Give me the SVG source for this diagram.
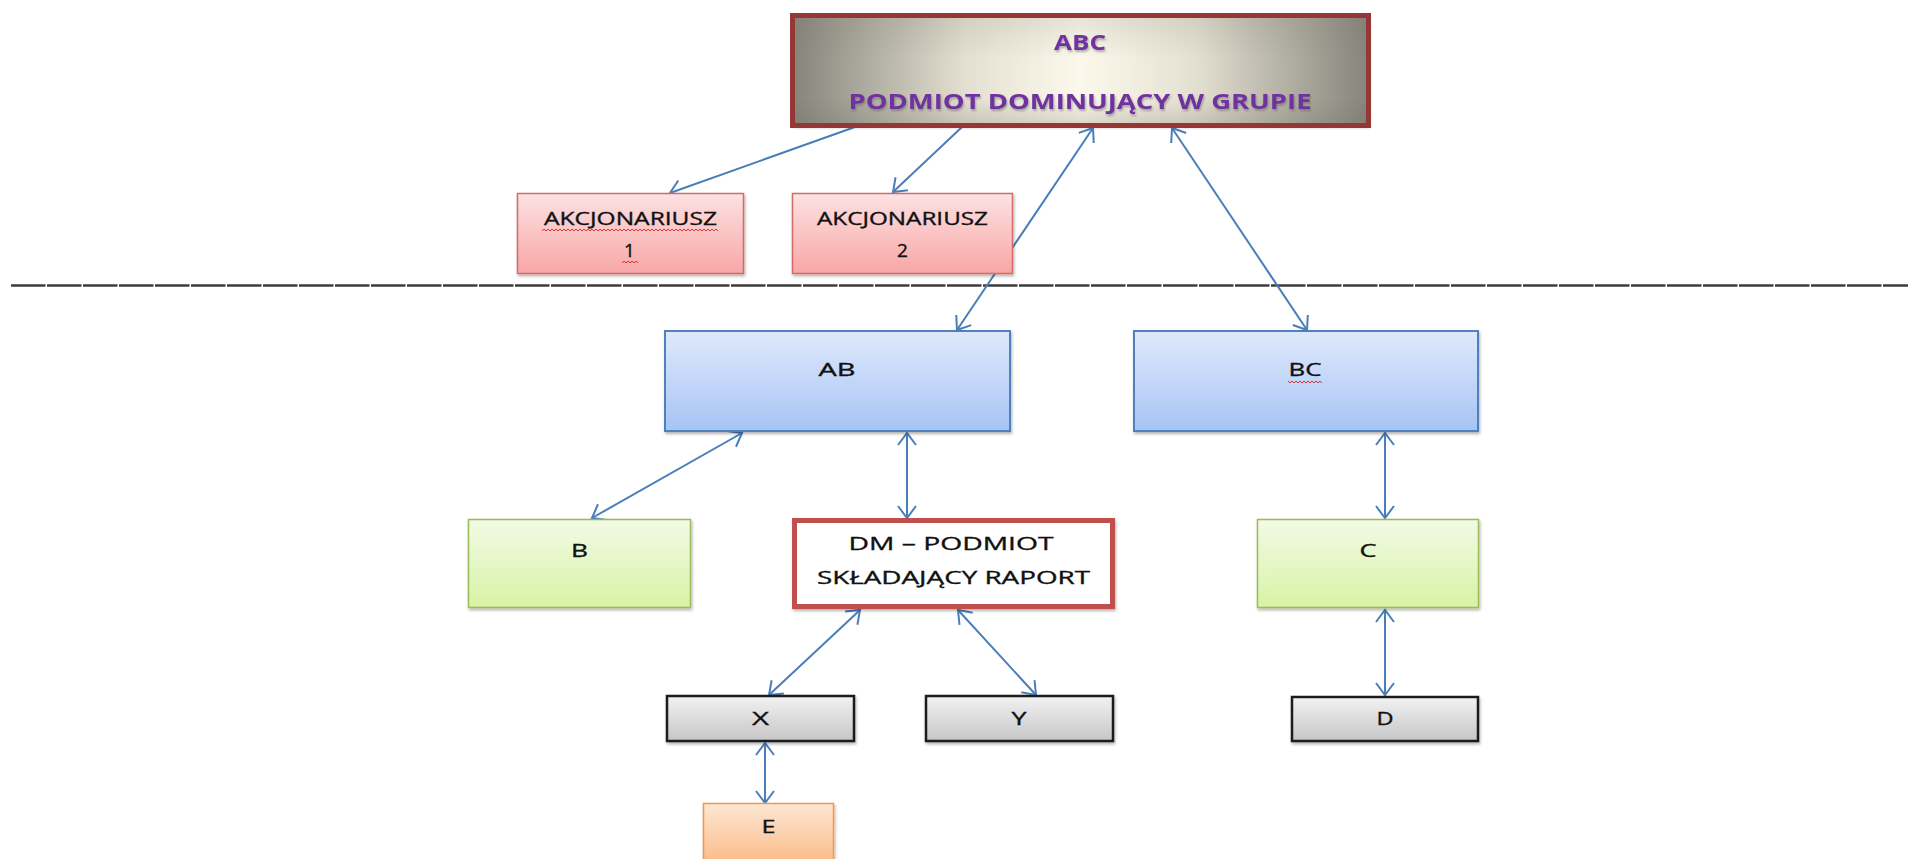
<svg xmlns="http://www.w3.org/2000/svg" width="1908" height="859" viewBox="0 0 1908 859">
<style>
  .lbl { font-family: "Open Sans", "Liberation Sans", Arial, sans-serif; fill: #111; stroke: #111; stroke-width: 0.35; text-anchor: middle; }
  .ttl { font-family: "Open Sans", "Liberation Sans", Arial, sans-serif; font-weight: bold; fill: #7030a0; text-anchor: middle; }
  .con line { stroke: #4a7ebb; stroke-width: 2; fill: none; }
  .pink { fill: url(#gPink); stroke: #d36b6b; stroke-width: 1.5; }
  .blue { fill: url(#gBlue); stroke: #4f81bd; stroke-width: 2; }
  .green { fill: url(#gGreen); stroke: #9bbb59; stroke-width: 1.5; }
  .gray { fill: url(#gGray); stroke: #1a1a1a; stroke-width: 2.5; }
  .orange { fill: url(#gOrange); stroke: #f79646; stroke-width: 1.5; }
  .sq { fill: url(#squiggle); }
</style>
<defs>
  <linearGradient id="gTop" x1="0" y1="0" x2="1" y2="0">
    <stop offset="0" stop-color="#86847b"/>
    <stop offset="0.3" stop-color="#e4e0d1"/>
    <stop offset="0.5" stop-color="#fcf9ec"/>
    <stop offset="0.7" stop-color="#e4e0d1"/>
    <stop offset="1" stop-color="#86847b"/>
  </linearGradient>
  <linearGradient id="gTopV" x1="0" y1="0" x2="0" y2="1">
    <stop offset="0" stop-color="#6e6a5e" stop-opacity="0.15"/>
    <stop offset="0.4" stop-color="#6e6a5e" stop-opacity="0"/>
    <stop offset="0.75" stop-color="#6e6a5e" stop-opacity="0"/>
    <stop offset="1" stop-color="#6e6a5e" stop-opacity="0.25"/>
  </linearGradient>
  <linearGradient id="gPink" x1="0" y1="0" x2="0" y2="1">
    <stop offset="0" stop-color="#fde2e2"/>
    <stop offset="1" stop-color="#f8a6a6"/>
  </linearGradient>
  <linearGradient id="gBlue" x1="0" y1="0" x2="0" y2="1">
    <stop offset="0" stop-color="#dfe9fb"/>
    <stop offset="1" stop-color="#a7c4f5"/>
  </linearGradient>
  <linearGradient id="gGreen" x1="0" y1="0" x2="0" y2="1">
    <stop offset="0" stop-color="#f3fae6"/>
    <stop offset="1" stop-color="#d7f3a6"/>
  </linearGradient>
  <linearGradient id="gGray" x1="0" y1="0" x2="0" y2="1">
    <stop offset="0" stop-color="#f2f2f2"/>
    <stop offset="1" stop-color="#c6c6c6"/>
  </linearGradient>
  <linearGradient id="gOrange" x1="0" y1="0" x2="0" y2="1">
    <stop offset="0" stop-color="#fde7d4"/>
    <stop offset="1" stop-color="#fab37a"/>
  </linearGradient>
  <filter id="shadow" x="-10%" y="-20%" width="120%" height="150%">
    <feDropShadow dx="1" dy="2" stdDeviation="1.5" flood-color="#000" flood-opacity="0.3"/>
  </filter>
  <filter id="tshadow" x="-10%" y="-40%" width="120%" height="180%">
    <feDropShadow dx="1" dy="2" stdDeviation="1" flood-color="#555" flood-opacity="0.45"/>
  </filter>
  <pattern id="squiggle" width="4" height="4" patternUnits="userSpaceOnUse">
    <path d="M0,1 L2,3 L4,1" fill="none" stroke="#e02020" stroke-width="0.9"/>
  </pattern>
  <marker id="ah" viewBox="-14 -11 16 22" refX="0" refY="0" markerWidth="16" markerHeight="22" markerUnits="userSpaceOnUse" orient="auto-start-reverse">
    <path d="M-12,-9 L0,0 L-12,9" fill="none" stroke="#4a7ebb" stroke-width="2"/>
  </marker>
</defs>

<rect width="1908" height="859" fill="#ffffff"/>

<!-- dashed separator -->
<line x1="11" y1="285.5" x2="1908" y2="285.5" stroke="#3c3c3c" stroke-width="2.5" stroke-dasharray="34.5 1.5"/>

<g class="con">
  <line x1="855" y1="127" x2="670" y2="193" marker-end="url(#ah)"/>
  <line x1="962" y1="127" x2="893" y2="192" marker-end="url(#ah)"/>
  <line x1="1093" y1="128" x2="957" y2="330" marker-start="url(#ah)" marker-end="url(#ah)"/>
  <line x1="1172" y1="128" x2="1307" y2="330" marker-start="url(#ah)" marker-end="url(#ah)"/>
  <line x1="742" y1="433" x2="592" y2="518" marker-start="url(#ah)" marker-end="url(#ah)"/>
  <line x1="907" y1="433" x2="907" y2="518" marker-start="url(#ah)" marker-end="url(#ah)"/>
  <line x1="1385" y1="433" x2="1385" y2="518" marker-start="url(#ah)" marker-end="url(#ah)"/>
  <line x1="860" y1="610" x2="769" y2="695" marker-start="url(#ah)" marker-end="url(#ah)"/>
  <line x1="958" y1="610" x2="1036" y2="695" marker-start="url(#ah)" marker-end="url(#ah)"/>
  <line x1="1385" y1="610" x2="1385" y2="695" marker-start="url(#ah)" marker-end="url(#ah)"/>
  <line x1="765" y1="743" x2="765" y2="803" marker-start="url(#ah)" marker-end="url(#ah)"/>
</g>

<g id="node-abc">
  <rect x="792.5" y="15.5" width="576" height="110" fill="url(#gTop)" filter="url(#shadow)"/>
  <rect x="792.5" y="15.5" width="576" height="110" fill="url(#gTopV)" stroke="#953735" stroke-width="5"/>
  <text class="ttl" x="1080" y="50" font-size="21" textLength="52" lengthAdjust="spacingAndGlyphs" filter="url(#tshadow)">ABC</text>
  <text class="ttl" x="1080" y="109" font-size="21" textLength="463" lengthAdjust="spacingAndGlyphs" filter="url(#tshadow)">PODMIOT DOMINUJĄCY W GRUPIE</text>
</g>

<g id="node-akc1">
  <rect class="pink" x="517.5" y="193.5" width="226" height="80" filter="url(#shadow)"/>
  <text class="lbl" x="630.5" y="225" font-size="19" textLength="173" lengthAdjust="spacingAndGlyphs">AKCJONARIUSZ</text>
  <text class="lbl" x="629.5" y="257" font-size="19">1</text>
  <rect class="sq" x="542" y="228" width="176" height="4"/>
  <rect class="sq" x="622" y="260" width="16" height="4"/>
</g>

<g id="node-akc2">
  <rect class="pink" x="792.5" y="193.5" width="220" height="80" filter="url(#shadow)"/>
  <text class="lbl" x="902.5" y="225" font-size="19" textLength="171" lengthAdjust="spacingAndGlyphs">AKCJONARIUSZ</text>
  <text class="lbl" x="902.5" y="257" font-size="19">2</text>
</g>

<g id="node-ab">
  <rect class="blue" x="665" y="331" width="345" height="100" filter="url(#shadow)"/>
  <text class="lbl" x="837" y="376" font-size="18" textLength="37" lengthAdjust="spacingAndGlyphs">AB</text>
</g>

<g id="node-bc">
  <rect class="blue" x="1134" y="331" width="344" height="100" filter="url(#shadow)"/>
  <text class="lbl" x="1305" y="376" font-size="18" textLength="33" lengthAdjust="spacingAndGlyphs">BC</text>
  <rect class="sq" x="1288" y="380" width="34" height="4"/>
</g>

<g id="node-b">
  <rect class="green" x="468.5" y="519.5" width="222" height="88" filter="url(#shadow)"/>
  <text class="lbl" x="579.5" y="557" font-size="18" textLength="17" lengthAdjust="spacingAndGlyphs">B</text>
</g>

<g id="node-dm">
  <rect x="794.5" y="520.5" width="318" height="86" fill="#ffffff" stroke="#c0504d" stroke-width="5" filter="url(#shadow)"/>
  <text class="lbl" x="951" y="550" font-size="19" textLength="205" lengthAdjust="spacingAndGlyphs">DM – PODMIOT</text>
  <text class="lbl" x="953.5" y="584" font-size="19" textLength="273" lengthAdjust="spacingAndGlyphs">SKŁADAJĄCY RAPORT</text>
</g>

<g id="node-c">
  <rect class="green" x="1257.5" y="519.5" width="221" height="88" filter="url(#shadow)"/>
  <text class="lbl" x="1368" y="557" font-size="18" textLength="17" lengthAdjust="spacingAndGlyphs">C</text>
</g>

<g id="node-x">
  <rect class="gray" x="667" y="696" width="187" height="45" filter="url(#shadow)"/>
  <text class="lbl" x="760.5" y="725" font-size="18" textLength="17" lengthAdjust="spacingAndGlyphs">X</text>
</g>

<g id="node-y">
  <rect class="gray" x="926" y="696" width="187" height="45" filter="url(#shadow)"/>
  <text class="lbl" x="1019" y="725" font-size="18" textLength="15" lengthAdjust="spacingAndGlyphs">Y</text>
</g>

<g id="node-d">
  <rect class="gray" x="1292" y="697" width="186" height="44" filter="url(#shadow)"/>
  <text class="lbl" x="1385" y="725" font-size="18" textLength="17" lengthAdjust="spacingAndGlyphs">D</text>
</g>

<g id="node-e">
  <rect class="orange" x="703.5" y="803.5" width="130" height="70" filter="url(#shadow)"/>
  <text class="lbl" x="768.5" y="833" font-size="18" textLength="14" lengthAdjust="spacingAndGlyphs">E</text>
</g>
</svg>
